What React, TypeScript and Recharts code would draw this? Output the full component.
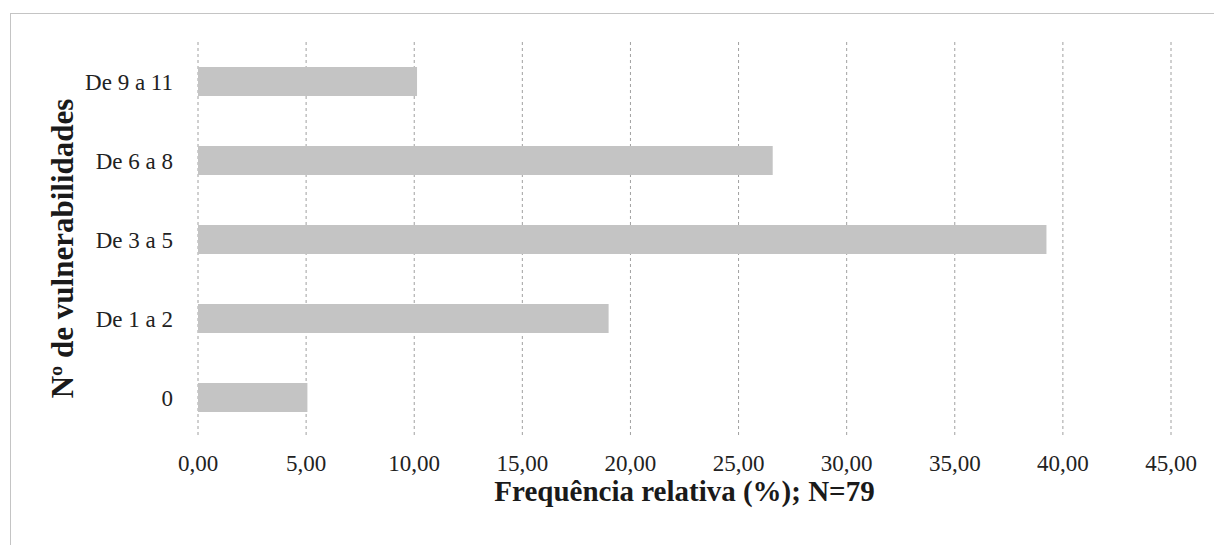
import { BarChart, Bar, XAxis, YAxis, CartesianGrid } from 'recharts';

// número de vulnerabilidades, de baixo para cima
const categories = ['0', 'De 1 a 2', 'De 3 a 5', 'De 6 a 8', 'De 9 a 11'];
// frequência relativa (%), N=79
const frequencies = [5.06, 18.99, 39.24, 26.58, 10.13];
const xTicks = [0, 5, 10, 15, 20, 25, 30, 35, 40, 45];

const xTitle = 'Frequência relativa (%); N=79';
const yTitle = 'Nº de vulnerabilidades';

const serif = '"Liberation Serif", "Times New Roman", serif';

const data = categories.map((cat, i) => ({ cat, freq: frequencies[i] }));

const fmt = (v: number) => v.toFixed(2).replace('.', ',');

function XTitle(props: any) {
  const vb = props.viewBox;
  return (
    <text x={vb.x + vb.width / 2} y={vb.y + 64} textAnchor="middle"
      fontFamily={serif} fontSize={29} fontWeight="bold" fill="#1a1a1a">
      {xTitle}
    </text>
  );
}

function YTitle(props: any) {
  const vb = props.viewBox;
  const x = vb.x + 73;
  const y = vb.y + vb.height / 2 + 9;
  return (
    <text x={x} y={y} transform={`rotate(-90, ${x}, ${y})`} textAnchor="middle"
      fontFamily={serif} fontSize={31} fontWeight="bold" fill="#1a1a1a">
      {yTitle}
    </text>
  );
}

export default function App() {
  return (
    <div style={{ position: 'absolute', left: 0, top: 0, width: 1214, height: 545, background: '#fff', overflow: 'hidden' }}>
      <div style={{ position: 'absolute', left: 10, top: 13, right: 0, bottom: 0, borderTop: '1px solid #c4c4c4', borderLeft: '1px solid #c4c4c4' }} />
      <BarChart width={1214} height={545} data={data} layout="vertical"
        margin={{ top: 42, right: 43, bottom: 48, left: 0 }} barCategoryGap={0}>
        <CartesianGrid horizontal={false} stroke="#a0a0a0" strokeDasharray="3 3" />
        <XAxis type="number" domain={[0, 45]} ticks={xTicks} tickFormatter={fmt}
          axisLine={false} tickLine={false} tickSize={0} tickMargin={18} height={60}
          tick={{ fontFamily: serif, fontSize: 23, fill: '#222' }}
          label={{ content: XTitle }} />
        <YAxis type="category" dataKey="cat" reversed width={198}
          axisLine={false} tickLine={false} tickSize={0} tickMargin={25}
          tick={{ fontFamily: serif, fontSize: 23, fill: '#222' }}
          label={{ content: YTitle }} />
        <Bar dataKey="freq" fill="#c4c4c4" barSize={29} isAnimationActive={false} />
      </BarChart>
    </div>
  );
}
